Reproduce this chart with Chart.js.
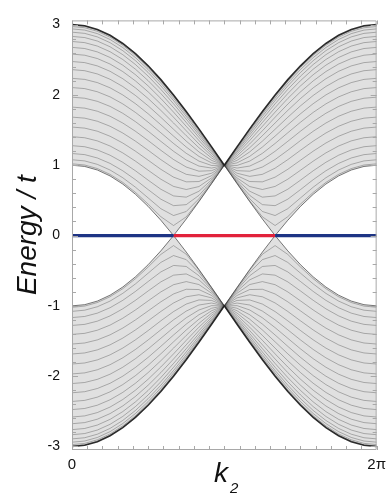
<!DOCTYPE html>
<html>
<head>
<meta charset="utf-8">
<script src="https://cdn.jsdelivr.net/npm/chart.js@4.4.1/dist/chart.umd.min.js"></script>
<style>
  html, body { margin: 0; padding: 0; background: #ffffff; }
  #wrap { width: 392px; height: 498px; position: relative; }
</style>
</head>
<body>
<div id="wrap"><canvas id="c"></canvas></div>
<script>
// ---- data (upper band, left half: k from 0 to pi) ----
const kHalf = [0, 0.2618, 0.5236, 0.7854, 1.0472, 1.3090, 1.5708, 1.8326, 2.0944, 2.3562, 2.6180, 2.8798, 3.1416];

const band01 = [3.0000, 2.9829, 2.9319, 2.8478, 2.7321, 2.5867, 2.4142, 2.2175, 2.0000, 1.7654, 1.5176, 1.2611, 1.0];
const band02 = [2.9932, 2.9761, 2.9251, 2.8412, 2.7256, 2.5805, 2.4082, 2.2119, 1.9949, 1.7609, 1.5142, 1.2590, 1.0];
const band03 = [2.9729, 2.9559, 2.9050, 2.8214, 2.7062, 2.5617, 2.3904, 2.1952, 1.9797, 1.7477, 1.5038, 1.2526, 1.0];
const band04 = [2.9391, 2.9222, 2.8717, 2.7885, 2.6741, 2.5307, 2.3607, 2.1673, 1.9543, 1.7257, 1.4865, 1.2422, 1.0];
const band05 = [2.8922, 2.8754, 2.8253, 2.7428, 2.6295, 2.4874, 2.3194, 2.1286, 1.9190, 1.6951, 1.4625, 1.2278, 1.0];
const band06 = [2.8325, 2.8158, 2.7662, 2.6846, 2.5725, 2.4323, 2.2666, 2.0791, 1.8739, 1.6561, 1.4319, 1.2094, 1.0];
const band07 = [2.7603, 2.7439, 2.6949, 2.6142, 2.5037, 2.3655, 2.2028, 2.0191, 1.8193, 1.6088, 1.3950, 1.1875, 1.0];
const band08 = [2.6763, 2.6601, 2.6117, 2.5322, 2.4234, 2.2876, 2.1282, 1.9491, 1.7554, 1.5535, 1.3519, 1.1621, 1.0];
const band09 = [2.5810, 2.5650, 2.5174, 2.4391, 2.3322, 2.1991, 2.0433, 1.8692, 1.6825, 1.4905, 1.3031, 1.1336, 1.0];
const band10 = [2.4753, 2.4595, 2.4126, 2.3357, 2.2307, 2.1004, 1.9486, 1.7800, 1.6011, 1.4202, 1.2489, 1.1024, 1.0];
const band11 = [2.3599, 2.3444, 2.2982, 2.2226, 2.1197, 1.9923, 1.8446, 1.6819, 1.5115, 1.3430, 1.1896, 1.0689, 1.0];
const band12 = [2.2361, 2.2208, 2.1753, 2.1010, 2.0000, 1.8755, 1.7321, 1.5756, 1.4142, 1.2593, 1.1260, 1.0335, 1.0];
const band13 = [2.1049, 2.0899, 2.0450, 1.9719, 1.8727, 1.7510, 1.6117, 1.4615, 1.3097, 1.1696, 1.0586, 0.9969, 1.0];
const band14 = [1.9680, 1.9531, 1.9088, 1.8366, 1.7390, 1.6198, 1.4843, 1.3403, 1.1986, 1.0745, 0.9881, 0.9597, 1.0];
const band15 = [1.8271, 1.8123, 1.7683, 1.6968, 1.6003, 1.4830, 1.3509, 1.2128, 1.0813, 0.9746, 0.9153, 0.9226, 1.0];
const band16 = [1.6845, 1.6697, 1.6258, 1.5544, 1.4585, 1.3424, 1.2128, 1.0797, 0.9585, 0.8708, 0.8416, 0.8865, 1.0];
const band17 = [1.5429, 1.5280, 1.4839, 1.4121, 1.3159, 1.1998, 1.0713, 0.9422, 0.8308, 0.7638, 0.7681, 0.8522, 1.0];
const band18 = [1.4061, 1.3909, 1.3461, 1.2733, 1.1756, 1.0580, 0.9287, 0.8013, 0.6989, 0.6549, 0.6968, 0.8207, 1.0];
const band19 = [1.2787, 1.2632, 1.2173, 1.1425, 1.0420, 0.9209, 0.7878, 0.6587, 0.5635, 0.5459, 0.6301, 0.7930, 1.0];
const band20 = [1.1668, 1.1508, 1.1034, 1.0260, 0.9214, 0.7944, 0.6536, 0.5171, 0.4251, 0.4398, 0.5712, 0.7702, 1.0];
const band21 = [1.0780, 1.0615, 1.0124, 0.9319, 0.8223, 0.6876, 0.5349, 0.3820, 0.2846, 0.3422, 0.5240, 0.7531, 1.0];
const band22 = [1.0202, 1.0032, 0.9527, 0.8697, 0.7558, 0.6136, 0.4476, 0.2685, 0.1427, 0.2658, 0.4932, 0.7425, 1.0];
const band23 = [1.0000, 0.9829, 0.9319, 0.8478, 0.7321, 0.5867, 0.4142, 0.2175, 0.0000, 0.2346, 0.4824, 0.7390, 1.0];

// edge states at E = 0
const edgeBlueK = [0, 2.0944, null, 4.1888, 6.2832];
const edgeBlueE = [0, 0, null, 0, 0];
const edgeRedK  = [2.0944, 4.1888];
const edgeRedE  = [0, 0];

// axis ticks
const yTickValues = [-3, -2, -1, 0, 1, 2, 3];
const yTickLabels = ['-3', '-2', '-1', '0', '1', '2', '3'];
const xTickValues = [0, 6.2832];
const xTickLabels = ['0', '2\u03C0'];

// ---- build datasets ----
const bandsUpper = [band01, band02, band03, band04, band05, band06, band07, band08, band09, band10, band11, band12,
                    band13, band14, band15, band16, band17, band18, band19, band20, band21, band22, band23];
const KMAX = 6.2832;

function fullCurve(vals, sign) {
  const pts = [];
  for (let i = 0; i < kHalf.length; i++) pts.push({ x: kHalf[i], y: sign * vals[i] });
  // right half is the mirror image of the left half (picture is symmetric about k = pi)
  for (let i = kHalf.length - 2; i >= 0; i--) pts.push({ x: KMAX - kHalf[i], y: sign * vals[i] });
  return pts;
}

const datasets = [];
datasets.push({
  data: edgeBlueK.map((k, i) => ({ x: k === null ? 3.1 : k, y: edgeBlueE[i] })),
  borderColor: '#1e3485', borderWidth: 3.2, pointRadius: 0, spanGaps: false, fill: false, tension: 0
});
datasets.push({
  data: edgeRedK.map((k, i) => ({ x: k, y: edgeRedE[i] })),
  borderColor: '#e2223b', borderWidth: 3.2, pointRadius: 0, fill: false, tension: 0
});
[1, -1].forEach((sign) => {
  const start = datasets.length;
  bandsUpper.forEach((b, j) => {
    const outer = (j === 0);
    const ds = {
      data: fullCurve(b, sign),
      borderColor: outer ? 'rgba(35,35,35,0.95)' : 'rgba(60,60,60,0.6)',
      borderWidth: outer ? 1.6 : 0.6,
      pointRadius: 0,
      tension: 0,
      fill: false
    };
    if (j === bandsUpper.length - 1) {
      ds.fill = start;
      ds.backgroundColor = 'rgba(0,0,0,0.12)';
      ds.borderColor = 'rgba(45,45,45,0.8)';
      ds.borderWidth = 0.8;
    }
    datasets.push(ds);
  });
});

// frame + inward minor ticks + x axis title with subscript
const framePlugin = {
  id: 'frame',
  afterDraw(chart) {
    const { ctx, chartArea: a, scales: { x, y } } = chart;
    ctx.save();
    ctx.strokeStyle = '#a8a8a8';
    ctx.lineWidth = 1;
    ctx.beginPath();
    ctx.moveTo(a.left + 0.5, a.top + 0.5);
    ctx.lineTo(a.right - 0.5, a.top + 0.5);
    ctx.lineTo(a.right - 0.5, a.bottom - 0.5);
    ctx.lineTo(a.left + 0.5, a.bottom - 0.5);
    ctx.closePath();
    ctx.stroke();
    ctx.beginPath();
    for (let i = -15; i <= 15; i++) {
      const py = Math.round(y.getPixelForValue(i / 5)) + 0.5;
      const len = (i % 5 === 0) ? 6 : 4;
      ctx.moveTo(a.left, py); ctx.lineTo(a.left + len, py);
      ctx.moveTo(a.right, py); ctx.lineTo(a.right - len, py);
    }
    for (let i = 0; i <= 20; i++) {
      const px = Math.round(x.getPixelForValue(i * Math.PI / 10)) + 0.5;
      ctx.moveTo(px, a.top); ctx.lineTo(px, a.top + 4);
      ctx.moveTo(px, a.bottom); ctx.lineTo(px, a.bottom - 4);
    }
    ctx.stroke();
    ctx.fillStyle = '#111';
    ctx.textBaseline = 'alphabetic';
    ctx.textAlign = 'left';
    ctx.font = 'italic 28px "Liberation Sans", Arial, sans-serif';
    ctx.fillText('k', 214, 482);
    ctx.font = 'italic 15px "Liberation Sans", Arial, sans-serif';
    ctx.fillText('2', 230, 493);
    ctx.restore();
  }
};

new Chart(document.getElementById('c'), {
  type: 'line',
  data: { datasets },
  options: {
    responsive: true,
    maintainAspectRatio: false,
    animation: false,
    events: [],
    layout: { padding: { left: 0, top: 6, right: 12, bottom: 0 } },
    plugins: { legend: { display: false }, tooltip: { enabled: false } },
    scales: {
      x: {
        type: 'linear',
        min: 0, max: KMAX,
        grid: { display: false, drawTicks: false },
        border: { display: false },
        afterBuildTicks: (s) => { s.ticks = xTickValues.map(v => ({ value: v })); },
        afterFit: (s) => { s.height = 48; },
        ticks: {
          autoSkip: false, maxRotation: 0, padding: 6, color: '#111',
          font: { family: '"Liberation Sans", Arial, sans-serif', size: 15 },
          callback: (v, i) => xTickLabels[i]
        }
      },
      y: {
        type: 'linear',
        min: -3.05, max: 3.06,
        grid: { display: false, drawTicks: false },
        border: { display: false },
        afterBuildTicks: (s) => { s.ticks = yTickValues.map(v => ({ value: v })); },
        afterFit: (s) => { s.width = 72; },
        ticks: {
          autoSkip: false, padding: 12, color: '#111',
          font: { family: '"Liberation Sans", Arial, sans-serif', size: 14 },
          callback: (v, i) => yTickLabels[i]
        },
        title: {
          display: true, text: 'Energy / t', color: '#111',
          font: { family: '"Liberation Sans", Arial, sans-serif', size: 28, style: 'italic', lineHeight: 1 },
          padding: { top: 14, bottom: 0 }
        }
      }
    }
  },
  plugins: [framePlugin]
});
</script>
</body>
</html>
